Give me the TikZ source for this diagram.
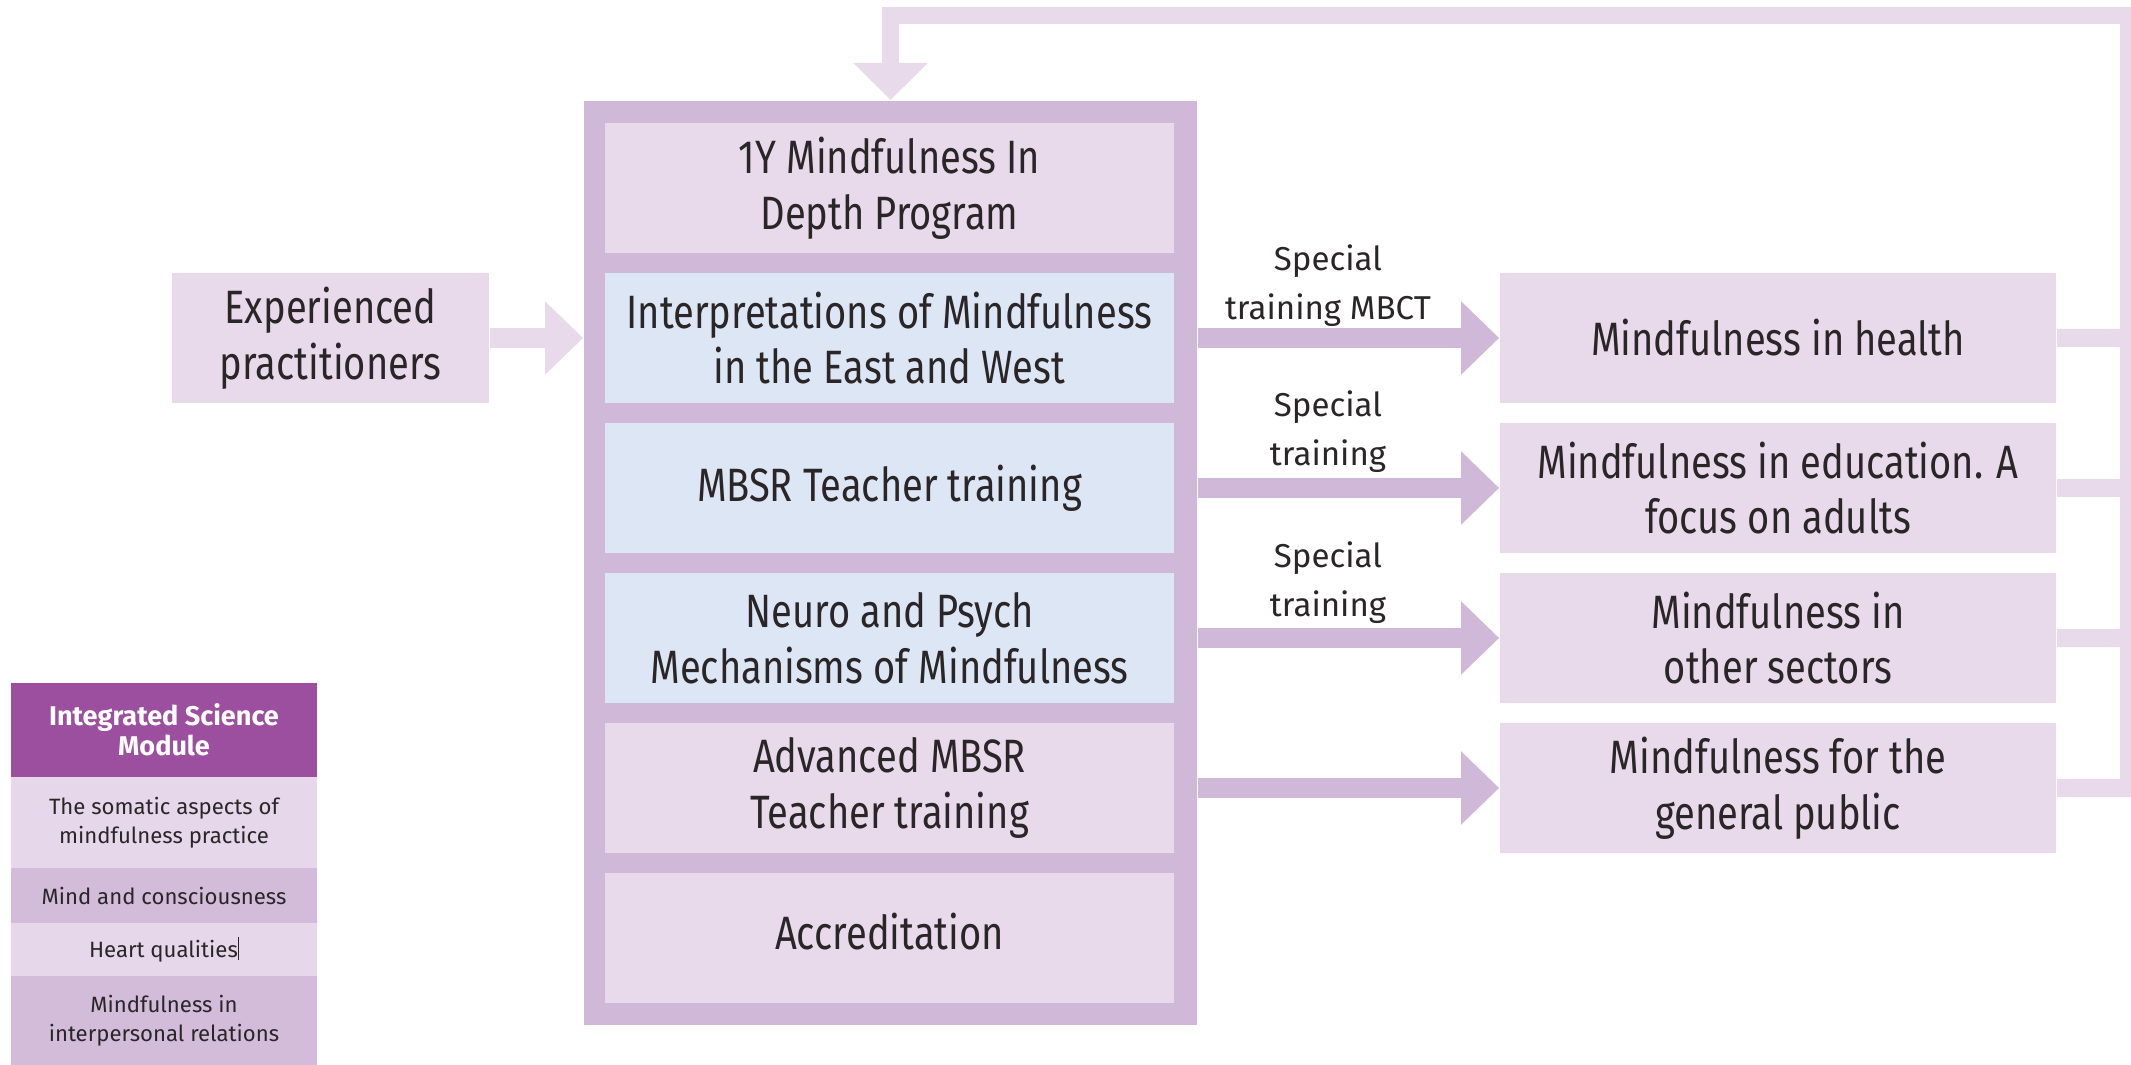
\documentclass[tikz,border=0pt]{standalone}
\usepackage{fontspec}
\setmainfont{Fira Sans}
\newfontfamily\boxfont{Fira Sans}[FakeStretch=0.815]
\usetikzlibrary{arrows.meta}
\definecolor{cdark}{HTML}{D0B9D8}
\definecolor{clight}{HTML}{E8DAEB}
\definecolor{cblue}{HTML}{DDE6F4}
\definecolor{chead}{HTML}{9B4F9E}
\definecolor{ctext}{HTML}{2A2628}
\definecolor{crowd}{HTML}{D3BBDA}
\definecolor{crowl}{HTML}{E6D7EA}
\begin{document}
\begin{tikzpicture}[x=0.01cm,y=-0.01cm,
  box/.style={fill=#1, minimum width=5.69cm, minimum height=1.3cm, inner sep=0pt,
    align=center, text=ctext, font=\boxfont\fontsize{13.3pt}{15.8pt}\selectfont},
  rbox/.style={box=clight, minimum width=5.56cm},
  lbl/.style={inner sep=0pt, align=center, text=ctext, font=\fontsize{9.4pt}{13.9pt}\selectfont},
  lgrow/.style={fill=#1, minimum width=3.06cm, inner sep=0pt, align=center, text=ctext,
    font=\fontsize{6.3pt}{8.25pt}\selectfont},
  fatlight/.style={draw=clight, line width=0.2cm},
  fatdark/.style={draw=cdark, line width=0.2cm},
  loopline/.style={draw=clight, line width=0.17cm, line join=miter},
  loopbranch/.style={draw=clight, line width=0.18cm},
  bigtip/.style={-{Triangle[width=0.71cm,length=0.38cm]}}
]
\fill[white] (0,0) rectangle (2131,1065);
\useasboundingbox (0,0) rectangle (2131,1065);

% main container
\node[fill=cdark, minimum width=6.13cm, minimum height=9.24cm, inner sep=0pt] (cont) at (890.5,563) {};
\node[box=clight] (b1) at (889.5,188) {1Y Mindfulness In\\Depth Program};
\node[box=cblue]  (b2) at (889.5,338) {Interpretations of Mindfulness\\in the East and West};
\node[box=cblue]  (b3) at (889.5,488) {MBSR Teacher training};
\node[box=cblue]  (b4) at (889.5,638) {Neuro and Psych\\Mechanisms of Mindfulness};
\node[box=clight] (b5) at (889.5,788) {Advanced MBSR\\Teacher training};
\node[box=clight] (b6) at (889.5,938) {\raisebox{3.6pt}{Accreditation}};

% left input
\node[box=clight, minimum width=3.17cm] (exp) at (330.5,338) {Experienced\\practitioners};

% right outputs
\node[rbox] (r1) at (1778,338) {Mindfulness in health};
\node[rbox] (r2) at (1778,488) {Mindfulness in education. A\\focus on adults};
\node[rbox] (r3) at (1778,638) {Mindfulness in\\other sectors};
\node[rbox] (r4) at (1778,788) {Mindfulness for the\\general public};

% labels
\node[lbl] (l1) at (1328,285.5) {Special\\training MBCT};
\node[lbl] (l2) at (1328,432) {Special\\training};
\node[lbl] (l3) at (1328,583) {Special\\training};

% legend
\node[lgrow=chead, minimum height=0.94cm, text=white,
  font=\bfseries\fontsize{7.7pt}{8.5pt}\selectfont] (lg0) at (164,730) {Integrated Science\\Module};
\node[lgrow=crowl, minimum height=0.91cm] (lg1) at (164,822.5) {The somatic aspects of\\mindfulness practice};
\node[lgrow=crowd, minimum height=0.55cm] (lg2) at (164,895.5) {Mind and consciousness};
\node[lgrow=crowl, minimum height=0.53cm] (lg3) at (164,949.5) {Heart qualities\rule[-0.6pt]{0.3pt}{6.6pt}};
\node[lgrow=crowd, minimum height=0.89cm] (lg4) at (164,1020.5) {Mindfulness in\\interpersonal relations};

% connectors
\coordinate (fbR) at (2128.5,15.5);
\draw[fatlight, bigtip] (exp.east) -- (exp.east -| cont.west);
\foreach \b/\r in {b2/r1,b3/r2,b4/r3,b5/r4}
  \draw[fatdark, bigtip] (\b -| cont.east) -- (\r.west);
\foreach \r in {r1,r2,r3}
  \draw[loopbranch] (\r.east) -- (\r.east -| fbR);
\draw[loopline, -{Triangle[width=0.72cm,length=0.37cm]}]
  (r4.east) -| (fbR) -- (fbR -| cont.north) -- (cont.north);
\end{tikzpicture}
\end{document}
